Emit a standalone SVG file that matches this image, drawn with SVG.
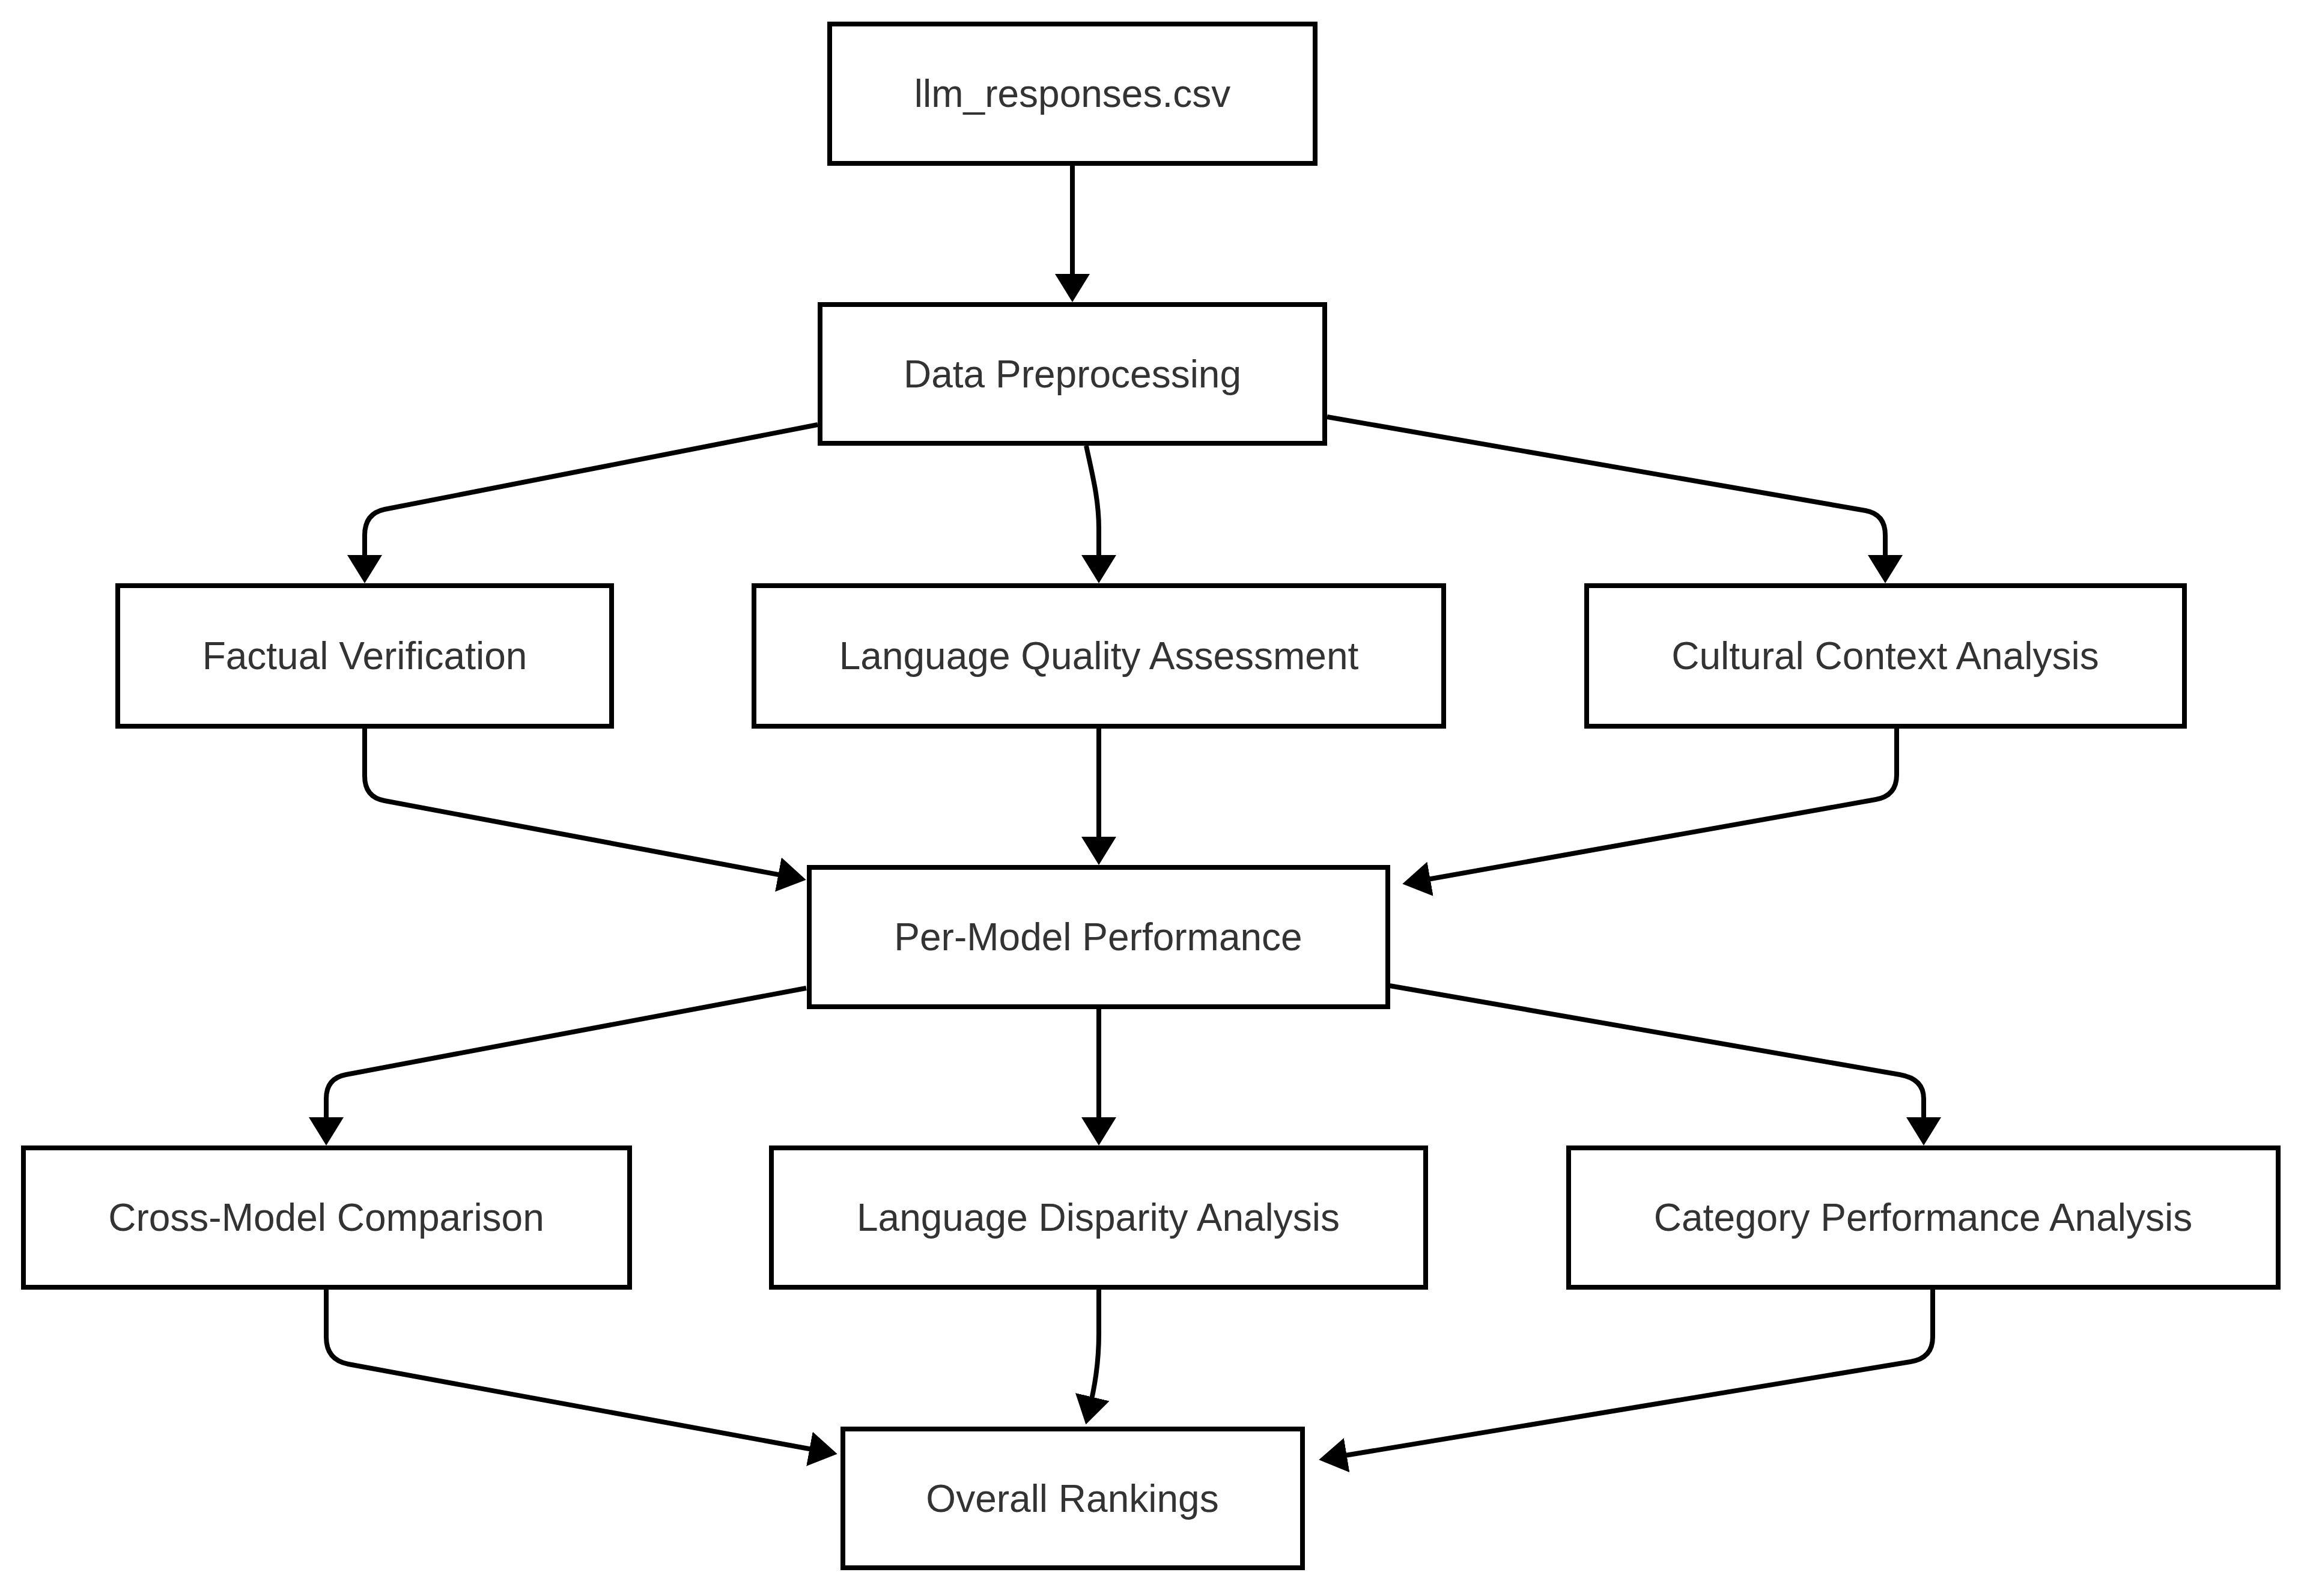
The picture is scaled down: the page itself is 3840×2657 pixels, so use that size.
<svg xmlns="http://www.w3.org/2000/svg" width="3840" height="2657" viewBox="0 0 3840 2657">
<style>
.box{fill:#ffffff;stroke:#000000;stroke-width:8}
.lbl{font-family:"Liberation Sans",Arial,sans-serif;font-size:64px;fill:#333333;text-anchor:middle}
.edge{fill:none;stroke:#000000;stroke-width:8}
</style>
<defs>
<marker id="arrow" markerUnits="userSpaceOnUse" viewBox="0 0 47 58" markerWidth="47" markerHeight="58" refX="27" refY="29" orient="auto">
<path d="M0,0 L47,29 L0,58 Z" fill="#000000"/>
</marker>
</defs>
<rect width="3840" height="2657" fill="#ffffff"/>
<g id="connectors">
<path class="edge" marker-end="url(#arrow)" d="M1785,276 L1785,483"/>
<path class="edge" marker-end="url(#arrow)" d="M1361,707 L640,848 Q607,855 607,891 L607,951"/>
<path class="edge" marker-end="url(#arrow)" d="M1808,742 C1818,790 1829,830 1829,880 L1829,951"/>
<path class="edge" marker-end="url(#arrow)" d="M2209,694 L3105,850 Q3138,856 3138,891 L3138,951"/>
<path class="edge" marker-end="url(#arrow)" d="M607,1213 L607,1292 Q607,1327 640,1333 L1322,1461"/>
<path class="edge" marker-end="url(#arrow)" d="M1829,1213 L1829,1420"/>
<path class="edge" marker-end="url(#arrow)" d="M3157,1213 L3157,1290 Q3157,1325 3122,1331 L2354,1468"/>
<path class="edge" marker-end="url(#arrow)" d="M1342,1645 L576,1789 Q543,1795 543,1829 L543,1887"/>
<path class="edge" marker-end="url(#arrow)" d="M1829,1680 L1829,1887"/>
<path class="edge" marker-end="url(#arrow)" d="M2313,1641 L3162,1789 Q3202,1796 3202,1829 L3202,1887"/>
<path class="edge" marker-end="url(#arrow)" d="M543,2147 L543,2226 Q543,2264 580,2271 L1374,2417"/>
<path class="edge" marker-end="url(#arrow)" d="M1829,2147 L1829,2220 C1829,2270 1822,2310 1812,2352"/>
<path class="edge" marker-end="url(#arrow)" d="M3217,2147 L3217,2226 Q3217,2261 3180,2267 L2215,2427"/>
</g>
<g id="llm_responses"><rect class="box" x="1381" y="40" width="808" height="232"/><text class="lbl" x="1785" y="178">llm_responses.csv</text></g>
<g id="data_preprocessing"><rect class="box" x="1365" y="507" width="840" height="231"/><text class="lbl" x="1785" y="645">Data Preprocessing</text></g>
<g id="factual_verification"><rect class="box" x="196" y="975" width="822" height="234"/><text class="lbl" x="607" y="1114">Factual Verification</text></g>
<g id="language_quality"><rect class="box" x="1255" y="975" width="1148" height="234"/><text class="lbl" x="1829" y="1114">Language Quality Assessment</text></g>
<g id="cultural_context"><rect class="box" x="2641" y="975" width="995" height="234"/><text class="lbl" x="3138" y="1114">Cultural Context Analysis</text></g>
<g id="per_model"><rect class="box" x="1347" y="1444" width="963" height="232"/><text class="lbl" x="1828" y="1582">Per-Model Performance</text></g>
<g id="cross_model"><rect class="box" x="39" y="1911" width="1009" height="232"/><text class="lbl" x="543" y="2049">Cross-Model Comparison</text></g>
<g id="language_disparity"><rect class="box" x="1284" y="1911" width="1089" height="232"/><text class="lbl" x="1828" y="2049">Language Disparity Analysis</text></g>
<g id="category_performance"><rect class="box" x="2611" y="1911" width="1181" height="232"/><text class="lbl" x="3201" y="2049">Category Performance Analysis</text></g>
<g id="overall_rankings"><rect class="box" x="1403" y="2379" width="765" height="231"/><text class="lbl" x="1785" y="2517">Overall Rankings</text></g>
</svg>
